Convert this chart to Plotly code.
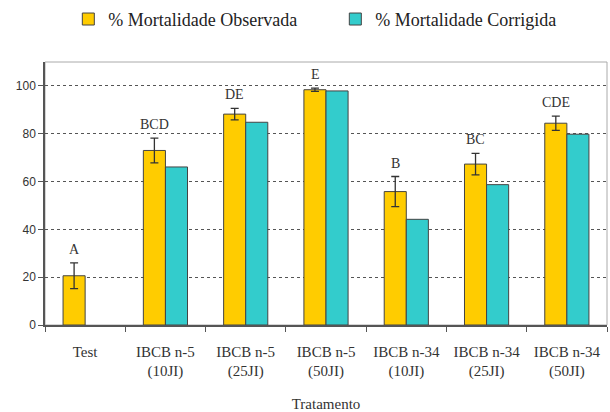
import plotly.graph_objects as go

# Treatments (isolate + dose)
categories = [
    "Test",
    "IBCB n-5<br>(10JI)",
    "IBCB n-5<br>(25JI)",
    "IBCB n-5<br>(50JI)",
    "IBCB n-34<br>(10JI)",
    "IBCB n-34<br>(25JI)",
    "IBCB n-34<br>(50JI)",
]
mort_observada = [20.6, 73.0, 88.2, 98.4, 55.8, 67.3, 84.4]
erro_observada = [5.4, 5.2, 2.4, 0.7, 6.3, 4.5, 3.0]
mort_corrigida = [None, 66.1, 84.8, 97.9, 44.2, 58.7, 79.8]
letras = ["A", "BCD", "DE", "E", "B", "BC", "CDE"]

serif = "Liberation Serif"
sans = "Liberation Sans"

fig = go.Figure()
fig.add_trace(go.Bar(
    name="% Mortalidade Observada",
    x=categories, y=mort_observada,
    error_y=dict(type="data", array=erro_observada, visible=True,
                 color="#333333", thickness=1.3, width=4),
    marker=dict(color="#FFCC00", line=dict(color="#444444", width=1)),
))
fig.add_trace(go.Bar(
    name="% Mortalidade Corrigida",
    x=categories, y=mort_corrigida,
    marker=dict(color="#33CCCC", line=dict(color="#444444", width=1)),
))

# Significance letters above the observed bars
for cat, val, err, txt in zip(categories, mort_observada, erro_observada, letras):
    fig.add_annotation(
        x=cat, y=val + err, text=txt, showarrow=False,
        xshift=-11, yanchor="bottom", yshift=4,
        font=dict(family=serif, size=14, color="#333333"),
    )

# light frame around the plotting area
fig.add_shape(type="rect", xref="paper", yref="paper", x0=0, y0=0, x1=1, y1=1,
              line=dict(color="#AAAAAA", width=1), layer="below")

fig.update_layout(
    width=610, height=412,
    margin=dict(l=45, r=3, t=62, b=87),
    paper_bgcolor="white", plot_bgcolor="white",
    barmode="group", bargap=0.45, bargroupgap=0,
    showlegend=True,
    legend=dict(orientation="h", xref="container", x=0.112, xanchor="left",
                yref="container", y=0.998, yanchor="top",
                entrywidth=222, entrywidthmode="pixels",
                font=dict(family=serif, size=18, color="#222222"),
                traceorder="normal", bgcolor="rgba(0,0,0,0)"),
    font=dict(family=serif, color="#333333"),
)

fig.update_xaxes(
    automargin=False,
    showline=True, linecolor="#555555", linewidth=1.5,
    ticks="outside", tickson="boundaries", ticklen=5, tickcolor="#555555",
    tickfont=dict(family=serif, size=15, color="#333333"),
    ticklabelstandoff=12,
    title=dict(text="Tratamento", font=dict(family=serif, size=15, color="#333333"), standoff=20),
    showgrid=False,
)
fig.update_yaxes(
    automargin=False,
    range=[0, 110], tickvals=[0, 20, 40, 60, 80, 100],
    showline=True, linecolor="#555555", linewidth=1.5,
    ticks="outside", ticklen=5, tickcolor="#555555",
    tickfont=dict(family=sans, size=12, color="#333333"),
    showgrid=True, gridcolor="#555555", griddash="dot", gridwidth=1,
    zeroline=False,
)

fig.write_html("out.html")
